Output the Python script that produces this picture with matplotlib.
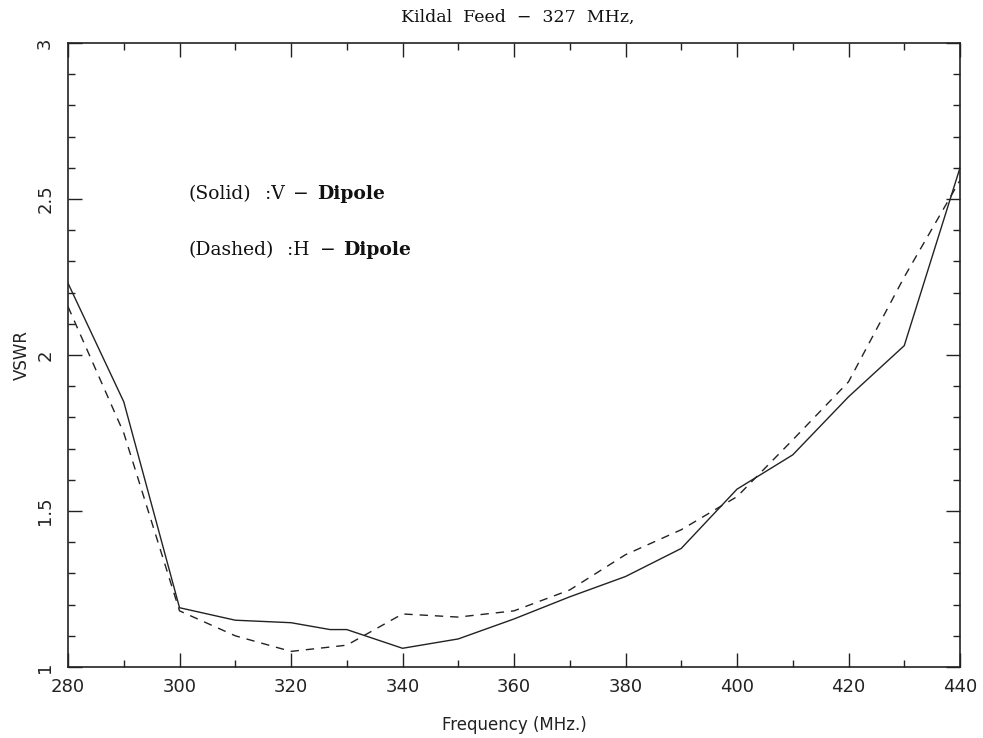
import numpy as np
import matplotlib
matplotlib.use('Agg')
import matplotlib.pyplot as plt
from matplotlib.ticker import MultipleLocator

# frequency in MHz
freq = [280, 290, 300, 310, 320, 327, 330, 340, 350, 360, 370, 380, 390, 400, 410, 420, 430, 440]
# V-dipole (solid)
vswr_v = [2.23, 1.85, 1.19, 1.15, 1.142, 1.12, 1.12, 1.06, 1.09, 1.154, 1.225, 1.29, 1.38, 1.57, 1.68, 1.866, 2.03, 2.60]
# H-dipole (dashed)
freq_h = [280, 290, 300, 310, 320, 330, 340, 350, 360, 370, 380, 390, 400, 410, 420, 430, 440]
vswr_h = [2.155, 1.75, 1.18, 1.10, 1.05, 1.07, 1.17, 1.16, 1.18, 1.247, 1.36, 1.44, 1.546, 1.728, 1.914, 2.25, 2.56]

fig = plt.figure(figsize=(9.83, 7.38), dpi=100)
ax = fig.add_axes([0.0692, 0.0962, 0.9074, 0.8455])

ax.plot(freq, vswr_v, color='#222222', lw=1.0)
ax.plot(freq_h, vswr_h, color='#222222', lw=1.0, ls=(0, (6, 5)))

ax.set_xlim(280, 440)
ax.set_ylim(1, 3)
ax.xaxis.set_major_locator(MultipleLocator(20))
ax.xaxis.set_minor_locator(MultipleLocator(10))
ax.yaxis.set_major_locator(MultipleLocator(0.5))
ax.yaxis.set_minor_locator(MultipleLocator(0.1))
ax.yaxis.set_major_formatter(plt.FuncFormatter(lambda v, p: '%g' % v))

ax.tick_params(which='major', direction='in', top=True, right=True, length=10, width=1.0,
               colors='#222222', labelsize=13, pad=8)
ax.tick_params(which='minor', direction='in', top=True, right=True, length=5, width=1.0,
               colors='#222222')
ax.tick_params(axis='y', which='major', pad=10)
for lab in ax.get_yticklabels():
    lab.set_rotation(90)
    lab.set_va('center')
for s in ax.spines.values():
    s.set_linewidth(1.2)
    s.set_color('#222222')

ax.set_xlabel('Frequency (MHz.)', fontsize=12, labelpad=14, color='#222222')
ax.set_ylabel('VSWR', fontsize=12, labelpad=4, color='#222222')

serif = 'DejaVu Serif'
fig.text(0.527, 0.977, 'Kildal  Feed  \u2212  327  MHz,', family=serif, fontsize=12.5,
         ha='center', va='center', color='#111111')

kw = dict(family=serif, fontsize=13.5, va='center', color='#111111')
ax.text(301.7, 2.516, '(Solid)', **kw)
ax.text(315.34, 2.516, ':V', **kw)
ax.text(320.36, 2.516, '\u2212', **kw)
ax.text(324.66, 2.516, 'Dipole', fontweight='bold', **kw)
ax.text(301.7, 2.336, '(Dashed)', **kw)
ax.text(319.28, 2.336, ':H', **kw)
ax.text(325.2, 2.336, '\u2212', **kw)
ax.text(329.33, 2.336, 'Dipole', fontweight='bold', **kw)

fig.savefig('out.png', dpi=100)
